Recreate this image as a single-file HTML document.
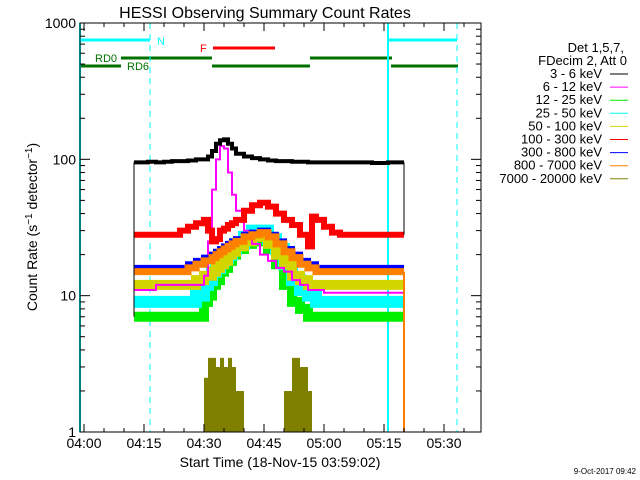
<!DOCTYPE html>
<html><head><meta charset="utf-8"><style>
body{margin:0;background:#fff;}
svg{display:block;font-family:"Liberation Sans",sans-serif;}
</style></head><body>
<svg id="chart" width="640" height="480" viewBox="0 0 640 480">
<rect width="640" height="480" fill="#fff"/>
<text x="265" y="18" font-size="16" text-anchor="middle">HESSI Observing Summary Count Rates</text>
<g id="marks"></g>
<g id="axes"></g>
<text transform="translate(37,227) rotate(-90)" font-size="14" text-anchor="middle">Count Rate (s<tspan baseline-shift="super" font-size="10">−1</tspan> detector<tspan baseline-shift="super" font-size="10">−1</tspan>)</text>
<text x="280" y="467" font-size="14" text-anchor="middle">Start Time (18-Nov-15 03:59:02)</text>
<text x="636" y="474" font-size="8" text-anchor="end">9-Oct-2017 09:42</text>
<g id="legend" font-size="13" text-anchor="end"></g>
</svg>
<script>
const times = [12.5,14,16,18,20,22,24,26,28,30,31,32,33,34,35,36,37,38,40,42,44,46,48,50,52,54,56,57,58,60,62,64,66,68,70,72,74,76,78,80];
const black = [95,95,96,95,96,97,97,98,100,100,105,115,130,138,140,130,120,110,105,102,100,98,97,97,96,96,95,95,95,95,95,95,95,95,95,94,94,95,95,95];
const magenta = [11,11,11,12,12,12,12,12,12,14,25,60,100,125,120,80,55,42,30,24,20,18,16,15,13,12,11,11,11,10.5,10.5,10.5,10.5,10.5,10.5,10.5,10.5,10.5,10.5,10.5];
const red = [28,28,28,28,28,28,30,32,34,36,30,25,26,30,31,33,34,36,42,46,48,45,40,36,33,28,23,38,36,32,29,28,28,28,28,28,28,28,28,28];
const blue = [16,16,16,16,16,16,16,17,18,19,19,20,21,22,23,24,25,26,28,29,30,28,25,22,20,18,17,17,16,16,16,16,16,16,16,16,16,16,16,16];
const orange = [15,15,15,15,15,15,15,16,17,18,18,19,20,21,22,23,24,25,27,28,29,27,24,21,19,17,16,16,15,15,15,15,15,15,15,15,15,15,15,15];
const yellow = [12,12,12,12,12,12,12,12,13,14,14,15,16,17,18,20,21,23,25,27,27,24,20,17,14,13,12,12,12,12,12,12,12,12,12,12,12,12,12,12];
const cyan = [9,9,9,9,9,9,9,9,10,12,13,15,16,18,19,20,22,24,27,30,30,26,22,17,13,11,10,10,9,9,9,9,9,9,9,9,9,9,9,9];
const green = [7,7,7,7,7,7,7,7,7,9,10,12,13,15,16,18,20,22,24,26,25,22,17,12,9,8,7,7,7,7,7,7,7,7,7,7,7,7,7,7];
const olive = [1,1,1,1,1,1,1,1,1,2.5,3.5,3.5,3,3.5,3,3.5,3,2,1,1,1,1,1,2,3.5,3,2,1,1,1,1,1,1,1,1,1,1,1,1,1];
const xTickLabels = ["04:00","04:15","04:30","04:45","05:00","05:15","05:30"];
const yTickLabels = ["1","10","100","1000"];
const legendLabels = ["3 - 6 keV","6 - 12 keV","12 - 25 keV","25 - 50 keV","50 - 100 keV","100 - 300 keV","300 - 800 keV","800 - 7000 keV","7000 - 20000 keV"];
const legendColors = ["#000","#ff00ff","#00ee00","#00ffff","#d4d400","#ff0000","#0000ff","#ff8000","#808000"];

const NS="http://www.w3.org/2000/svg";
const L=80,R=481,T=23,B=432;
const xs=t=>84+4*t;
const ys=v=>B-(B-T)*Math.log10(v)/3;
function mk(tag,attrs,parent){const e=document.createElementNS(NS,tag);for(const k in attrs)e.setAttribute(k,attrs[k]);parent.appendChild(e);return e;}
const marks=document.getElementById('marks'),axes=document.getElementById('axes'),leg=document.getElementById('legend');

function bar(x1,x2,y,c,w,name){const e=mk('line',{x1:x1,x2:x2,y1:y,y2:y,stroke:c,'stroke-width':w},marks);}
bar(80,150,40,'#00ffff',3,'night-bar');bar(388,457,40,'#00ffff',3,'night-bar-2');
bar(213,275,48,'#ff0000',3,'flare-bar');
bar(121,212,58,'#007000',3,'rd0-bar');bar(310,392,58,'#007000',3,'rd0-bar-2');
bar(80,121,66,'#007000',3,'rd6-bar');bar(212,310,66,'#007000',3,'rd6-bar-2');bar(391,458,66,'#007000',3,'rd6-bar-3');
[[157,45,'N','#00ffff','n-label'],[200,52,'F','#ff0000','f-label'],[95,62,'RD0','#007000','rd0-label'],[127,70,'RD6','#007000','rd6-label']].forEach(a=>{const e=mk('text',{x:a[0],y:a[1],fill:a[3],'font-size':11},marks);e.textContent=a[2];});
mk('line',{x1:457,x2:457,y1:T,y2:B,stroke:'#999','stroke-dasharray':'6,5'},marks);
[[80,false],[388,false],[150,true],[457,true]].forEach((a,i)=>{const e=mk('line',{x1:a[0],x2:a[0],y1:T,y2:B,stroke:'#00ffff','stroke-width':a[1]?1:2,'stroke-dasharray':a[1]?'6,5':''},marks);});

let d='M'+xs(times[0])+','+B;
times.forEach((t,i)=>{d+=' L'+xs(t)+','+ys(olive[i])+' L'+xs(times[i+1]||t)+','+ys(olive[i]);});
d+=' L'+xs(times[times.length-1])+','+B+'Z';
const oa=mk('path',{d:d,fill:'#808000'},marks);



const series=[[green,'#00ee00',10,'series-12-25-kev'],[cyan,'#00ffff',12,'series-25-50-kev'],[yellow,'#d4d400',10,'series-50-100-kev'],[magenta,'#ff00ff',2,'series-6-12-kev'],[blue,'#0000ff',6,'series-300-800-kev'],[orange,'#ff8000',7,'series-800-7000-kev'],[red,'#ff0000',6,'series-100-300-kev'],[black,'#000',4,'series-3-6-kev']];
series.forEach(s=>{let p='';times.forEach((t,i)=>{const nx=xs(times[i+1]!==undefined?times[i+1]:t);p+=xs(t)+','+ys(s[0][i])+' '+nx+','+ys(s[0][i])+' ';});
const e=mk('polyline',{points:p,fill:'none',stroke:s[1],'stroke-width':s[2]},marks);});
const x0=xs(times[0]),x1=xs(times[times.length-1]);
mk('line',{x1:x0,x2:x0,y1:ys(black[0]),y2:ys(7),stroke:'#000'},marks);
mk('line',{x1:x1,x2:x1,y1:ys(black[black.length-1]),y2:ys(28),stroke:'#000'},marks);
mk('line',{x1:x1,x2:x1,y1:ys(15),y2:B,stroke:'#ff8000','stroke-width':2},marks);

const fr=mk('rect',{x:L,y:T,width:R-L,height:B-T,fill:'none',stroke:'#000'},axes);

for(let m=0;m<=100;m+=5){const x=xs(m);if(x<L||x>R)continue;const len=m%15===0?8:4;
mk('line',{x1:x,x2:x,y1:B,y2:B-len,stroke:'#000'},axes);mk('line',{x1:x,x2:x,y1:T,y2:T+len,stroke:'#000'},axes);}
xTickLabels.forEach((l,i)=>{const e=mk('text',{x:xs(i*15),y:448,'font-size':14,'text-anchor':'middle'},axes);e.textContent=l;});
for(let dcd=0;dcd<3;dcd++)for(let k=1;k<10;k++){const v=k*Math.pow(10,dcd);const y=ys(v);const len=k===1?10:5;
mk('line',{x1:L,x2:L+len,y1:y,y2:y,stroke:'#000'},axes);mk('line',{x1:R,x2:R-len,y1:y,y2:y,stroke:'#000'},axes);}
yTickLabels.forEach((l,i)=>{const e=mk('text',{x:76,y:ys(Math.pow(10,i))+5,'font-size':14,'text-anchor':'end'},axes);e.textContent=l;});

[['Det 1,5,7,',624,52],['FDecim 2, Att 0',627,65]].forEach(a=>{const e=mk('text',{x:a[1],y:a[2]},leg);e.textContent=a[0];});
legendLabels.forEach((l,i)=>{const y=78+i*13.1;const t=mk('text',{x:602,y:y},leg);t.textContent=l;


const ln=mk('line',{x1:610,x2:628,y1:y-4,y2:y-4,stroke:legendColors[i]},leg);

});
</script>
</body></html>
